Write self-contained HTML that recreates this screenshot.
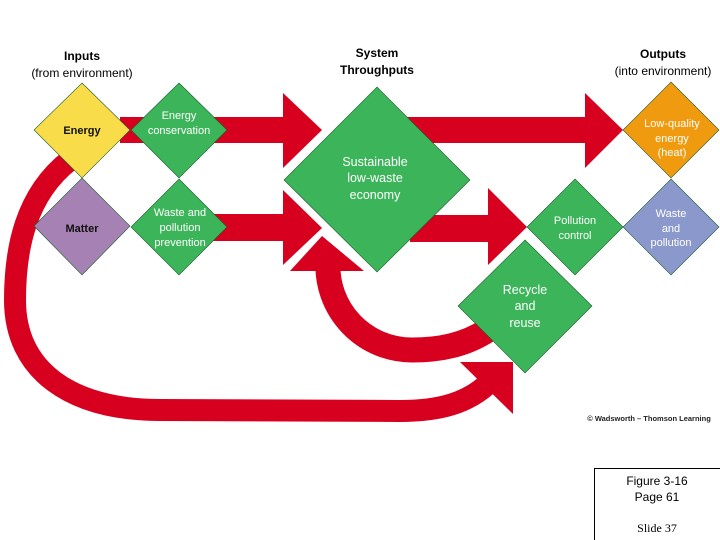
<!DOCTYPE html>
<html><head><meta charset="utf-8"><style>
html,body{margin:0;padding:0;background:#fff;}
svg{display:block;}
text{font-family:"Liberation Sans",Arial,sans-serif;}
</style></head><body>
<svg width="720" height="540" viewBox="0 0 720 540" xmlns="http://www.w3.org/2000/svg">
<g fill="#d8001f">
  <!-- big outer loop -->
  <path d="M70,160 C25,195 15,250 15,300 C15,370 70,410 160,410 L400,411 C440,411 468,403 490,382" fill="none" stroke="#d8001f" stroke-width="22"/>
  <polygon points="460,362 513,362 513,414"/>
  <!-- top arrows -->
  <rect x="120" y="117" width="170" height="26"/>
  <polygon points="283,93 322,130 283,168"/>
  <rect x="400" y="117" width="190" height="26"/>
  <polygon points="585,93 623,130 585,168"/>
  <!-- middle arrows -->
  <rect x="200" y="214" width="90" height="27"/>
  <polygon points="283,190 322,228 283,265"/>
  <rect x="410" y="215" width="85" height="27"/>
  <polygon points="488,188 527,227 488,265"/>
  <!-- recycle loop -->
  <path d="M328,262 A84,84 0 0 0 412,350 C440,350 465,345 488,330" fill="none" stroke="#d8001f" stroke-width="25"/>
  <polygon points="290,271 322,236 364,271"/>
</g>
<g stroke="#1a5a2a" stroke-width="0.6">
  <polygon points="377,87 470,180 377,272 284,180" fill="#3cb55a"/>
  <polygon points="82,83 130,130 82,178 34,130" fill="#f9dc4a"/>
  <polygon points="82,178 130,226 82,275 34,226" fill="#a682b4"/>
  <polygon points="179,83 227,130 179,178 131,130" fill="#3cb55a"/>
  <polygon points="179,179 227,227 179,275 131,227" fill="#3cb55a"/>
  <polygon points="575,179 623,227 575,275 527,227" fill="#3cb55a"/>
  <polygon points="671,82 719,130 671,178 623,130" fill="#f09a10"/>
  <polygon points="671,179 719,227 671,275 623,227" fill="#8b98cc"/>
  <polygon points="525,240 592,306 525,373 458,306" fill="#3cb55a"/>
</g>
<g font-size="12" text-anchor="middle" font-weight="bold">
  <text x="82" y="60">Inputs</text>
  <text x="377" y="57">System</text>
  <text x="377" y="74">Throughputs</text>
  <text x="663" y="58">Outputs</text>
</g>
<g font-size="12" text-anchor="middle">
  <text x="82" y="77">(from environment)</text>
  <text x="663" y="75">(into environment)</text>
</g>
<g font-size="11" text-anchor="middle" font-weight="bold" fill="#111">
  <text x="82" y="134">Energy</text>
  <text x="82" y="232">Matter</text>
</g>
<g font-size="11" text-anchor="middle" fill="#fff">
  <text x="179" y="119">Energy</text>
  <text x="179" y="134">conservation</text>
  <text x="180" y="216">Waste and</text>
  <text x="180" y="231">pollution</text>
  <text x="180" y="246">prevention</text>
  <text x="575" y="224">Pollution</text>
  <text x="575" y="239">control</text>
  <text x="671" y="217">Waste</text>
  <text x="671" y="232">and</text>
  <text x="671" y="246">pollution</text>
  <text x="672" y="127">Low-quality</text>
  <text x="672" y="142">energy</text>
  <text x="672" y="156">(heat)</text>
</g>
<g font-size="12.5" text-anchor="middle" fill="#fff">
  <text x="375" y="166">Sustainable</text>
  <text x="375" y="182">low-waste</text>
  <text x="375" y="199">economy</text>
  <text x="525" y="294">Recycle</text>
  <text x="525" y="310">and</text>
  <text x="525" y="327">reuse</text>
</g>
<text x="649" y="421" font-size="7.5" font-weight="bold" text-anchor="middle" fill="#222">© Wadsworth – Thomson Learning</text>
<path d="M594.5,540 V468.5 H720" fill="none" stroke="#000" stroke-width="1"/>
<text x="657" y="485" font-size="12" text-anchor="middle">Figure 3-16</text>
<text x="657" y="501" font-size="12" text-anchor="middle">Page 61</text>
<text x="657" y="532" font-size="12" text-anchor="middle" style="font-family:'Liberation Serif',serif">Slide 37</text>
</svg>
</body></html>
